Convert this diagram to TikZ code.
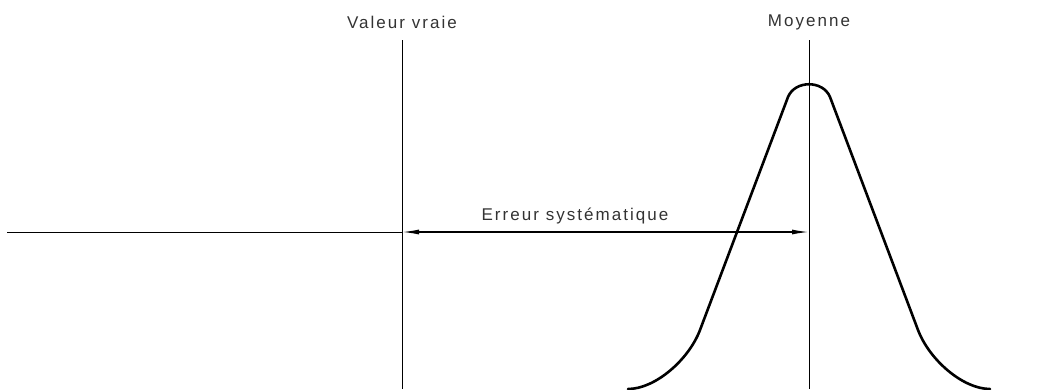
\documentclass[tikz,border=0pt]{standalone}
\usepackage{fontspec}
\setmainfont{Liberation Sans}
\newfontfamily\lblfont[LetterSpace=12]{Liberation Sans}
\usetikzlibrary{arrows.meta}
\begin{document}
\begin{tikzpicture}[x=1pt,y=-1pt,
  thinline/.style={line width=1pt,black},
  curveline/.style={line width=2.6pt,black,line join=round,line cap=round},
  dimline/.style={line width=1.4pt,black,{Latex[length=17pt,width=5pt]}-{Latex[length=17pt,width=5pt]}},
  lbl/.style={font=\lblfont\fontsize{17}{20}\selectfont,text=black!80,inner sep=0pt}]
\useasboundingbox (0,0) rectangle (1038,389);
\coordinate (vtop) at (402,40);
\coordinate (vbot) at (402,389);
\coordinate (mtop) at (809,40);
\coordinate (mbot) at (809,389);
\coordinate (hl) at (7,232);
\coordinate (ha) at (402,232);
\coordinate (hb) at (809,232);
\draw[thinline] (vtop) -- (vbot);
\draw[thinline] (mtop) -- (mbot);
\draw[thinline] (hl) -- (ha);
\draw[dimline] (ha) -- (hb);
\node[lbl] (vv) at (402,22) {Valeur vraie};
\node[lbl] (moy) at (809,22) {Moyenne};
\node[lbl] (err) at (575,216) {Erreur systématique};
\draw[curveline] (628,389) .. controls (655,389) and (688.6,360) .. (700,330)
  -- (788,97) .. controls (795,80) and (823,80) .. (830,97)
  -- (918,330) .. controls (929.4,360) and (963,389) .. (990,389);
\end{tikzpicture}
\end{document}
